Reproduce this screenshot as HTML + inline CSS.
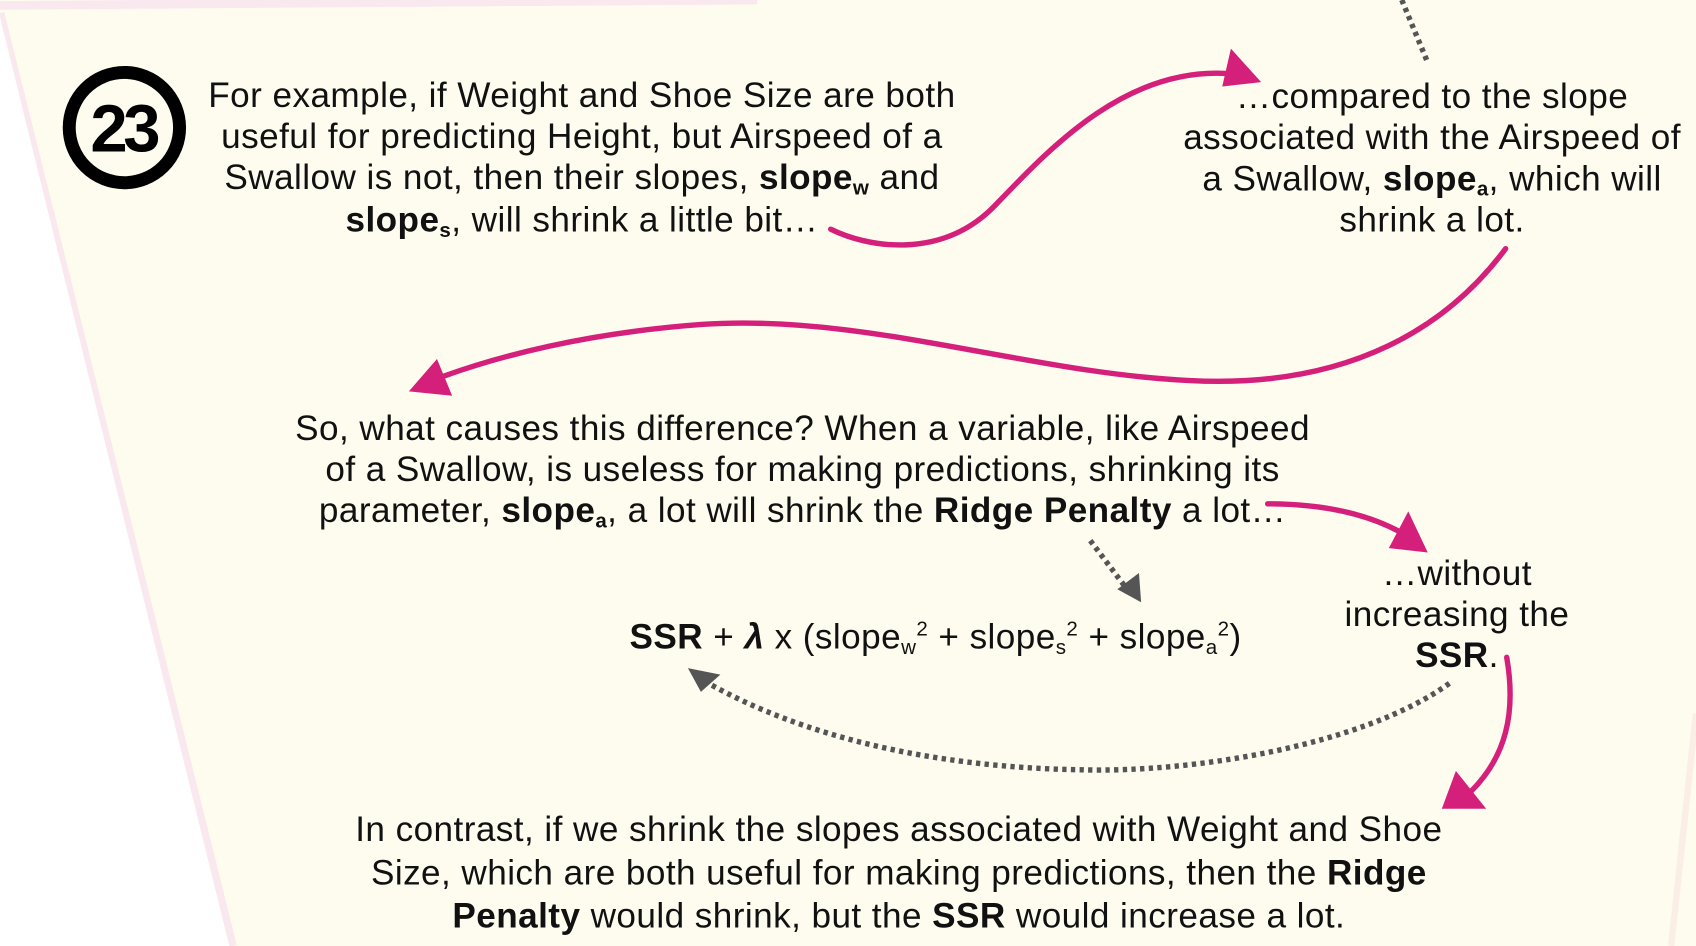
<!DOCTYPE html>
<html><head><meta charset="utf-8"><style>
html,body{margin:0;padding:0;background:#fff;}
svg{display:block;}
text{font-family:"Liberation Sans",Arial,sans-serif;fill:#111;}
</style></head><body>
<svg width="1696" height="946" viewBox="0 0 1568 875" preserveAspectRatio="none" xmlns="http://www.w3.org/2000/svg">
<polygon points="0,0 1568,0 1568,875 215,875 0,10" fill="#fefcef"/>
<path d="M0,12 L215,875" stroke="#fae8ef" stroke-width="8" fill="none"/>
<path d="M0,5 L700,0" stroke="#fae8ef" stroke-width="8" fill="none"/>
<path d="M1568,660 L1545,875" stroke="#fbeee6" stroke-width="6" fill="none"/>
<polygon points="0,16 0,875 212,875" fill="#fff"/>

<circle cx="115" cy="118" r="51" fill="none" stroke="#000" stroke-width="12"/>
<text x="114" y="140" text-anchor="middle" font-size="62" font-weight="bold" letter-spacing="-4" style="fill:#000">23</text>

<g font-size="32.5" letter-spacing="0.4" text-anchor="middle">
<text x="538" y="99">For example, if Weight and Shoe Size are both</text>
<text x="538" y="137">useful for predicting Height, but Airspeed of a</text>
<text x="538" y="175">Swallow is not, then their slopes, <tspan font-weight="bold">slope<tspan font-size="19" dy="5">w</tspan></tspan><tspan dy="-5"> and</tspan></text>
<text x="538" y="214"><tspan font-weight="bold">slope<tspan font-size="19" dy="5">s</tspan></tspan><tspan dy="-5">, will shrink a little bit…</tspan></text>

<text x="1324" y="100">…compared to the slope</text>
<text x="1324" y="138">associated with the Airspeed of</text>
<text x="1324" y="176">a Swallow, <tspan font-weight="bold">slope<tspan font-size="19" dy="5">a</tspan></tspan><tspan dy="-5">, which will</tspan></text>
<text x="1324" y="214">shrink a lot.</text>

<text x="742" y="407">So, what causes this difference? When a variable, like Airspeed</text>
<text x="742" y="445">of a Swallow, is useless for making predictions, shrinking its</text>
<text x="742" y="483">parameter, <tspan font-weight="bold">slope<tspan font-size="19" dy="5">a</tspan></tspan><tspan dy="-5">, a lot will shrink the </tspan><tspan font-weight="bold">Ridge Penalty</tspan> a lot…</text>

<text x="1347" y="541">…without</text>
<text x="1347" y="579">increasing the</text>
<text x="1347" y="617"><tspan font-weight="bold">SSR</tspan>.</text>

<text x="865" y="600"><tspan font-weight="bold">SSR</tspan> + <tspan font-weight="bold" font-style="italic">λ</tspan> x (slope<tspan font-size="19" dy="5">w</tspan><tspan font-size="19" dy="-17">2</tspan><tspan dy="12"> + slope</tspan><tspan font-size="19" dy="5">s</tspan><tspan font-size="19" dy="-17">2</tspan><tspan dy="12"> + slope</tspan><tspan font-size="19" dy="5">a</tspan><tspan font-size="19" dy="-17">2</tspan><tspan dy="12">)</tspan></text>

<text x="831" y="778">In contrast, if we shrink the slopes associated with Weight and Shoe</text>
<text x="831" y="818">Size, which are both useful for making predictions, then the <tspan font-weight="bold">Ridge</tspan></text>
<text x="831" y="858"><tspan font-weight="bold">Penalty</tspan> would shrink, but the <tspan font-weight="bold">SSR</tspan> would increase a lot.</text>
</g>

<g stroke="#d4207a" fill="none" stroke-linecap="round">
<path d="M768,212 C800,228 870,242 920,190 S1040,62 1135,68" stroke-width="5"/>
<path d="M1392,230 C1340,300 1250,360 1100,352 C950,345 800,290 650,300 C540,308 460,330 410,348" stroke-width="5"/>
<path d="M1172,466 C1230,466 1270,478 1298,494" stroke-width="5"/>
<path d="M1393,608 C1402,660 1392,700 1360,732" stroke-width="5"/>
</g>
<g fill="#d4207a">
<polygon points="1138,45 1166,76 1130,80"/>
<polygon points="404,332 378,362 418,366"/>
<polygon points="1302,473 1320,511 1284,507"/>
<polygon points="1346,713 1333,748 1374,748"/>
</g>

<g stroke="#555" fill="none" stroke-width="5" stroke-dasharray="4,4">
<path d="M1008,500 L1042,545"/>
<path d="M1340,632 C1260,690 1100,715 1000,712 C860,710 740,680 655,632"/>
<path d="M1296,0 L1320,58"/>
</g>
<g fill="#555">
<polygon points="1033,545 1055,557 1053,530"/>
<polygon points="636,618 666,624 648,640"/>
</g>
</svg>
</body></html>
